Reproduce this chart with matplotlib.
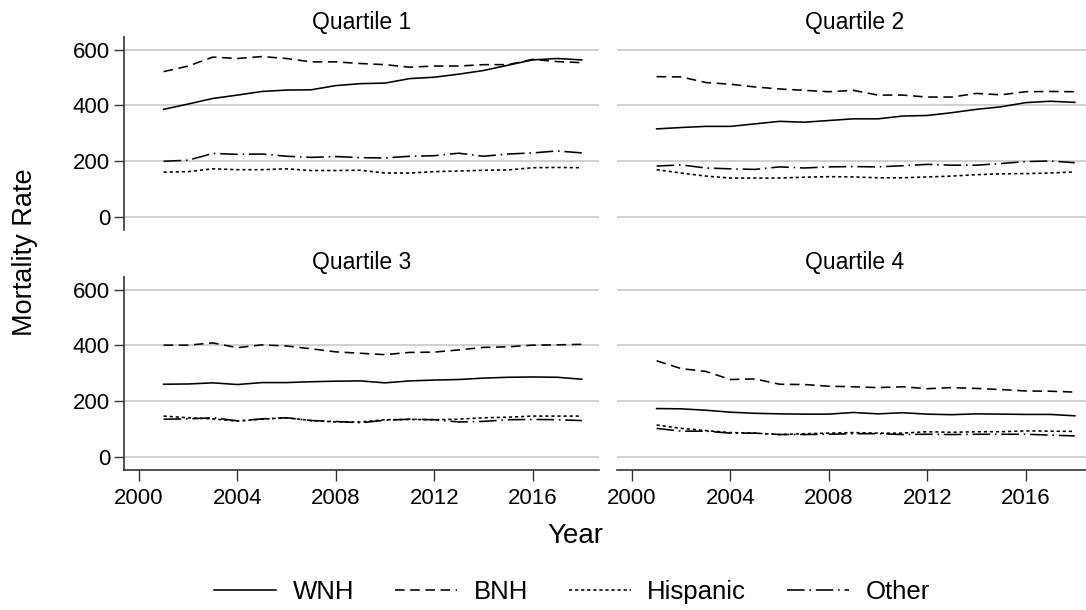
import numpy as np
import matplotlib
matplotlib.use("Agg")
import matplotlib.pyplot as plt

plt.rcParams["font.family"] = ["Liberation Sans", "DejaVu Sans"]

years = list(range(2001, 2019))
groups = ["WNH", "BNH", "Hispanic", "Other"]
panels = ["Quartile 1", "Quartile 2", "Quartile 3", "Quartile 4"]

# mortality rates per quartile, one list per group
q1_wnh = [386, 405, 425, 437, 450, 455, 456, 471, 478, 480, 496, 501, 512, 525, 544, 563, 568, 563]
q1_bnh = [521, 541, 573, 568, 575, 568, 556, 556, 550, 546, 537, 541, 541, 546, 546, 565, 557, 553]
q1_hisp = [161, 163, 173, 170, 170, 173, 167, 167, 168, 158, 158, 163, 165, 168, 169, 177, 178, 177]
q1_other = [200, 204, 228, 225, 226, 218, 214, 217, 213, 212, 218, 220, 229, 218, 226, 230, 237, 230]

q2_wnh = [316, 321, 325, 325, 334, 343, 340, 346, 352, 352, 362, 364, 374, 386, 395, 410, 415, 411]
q2_bnh = [503, 502, 482, 476, 466, 459, 454, 449, 454, 437, 437, 430, 430, 443, 438, 449, 450, 449]
q2_hisp = [170, 158, 147, 140, 140, 140, 143, 145, 144, 141, 141, 144, 147, 152, 155, 156, 158, 162]
q2_other = [183, 187, 176, 173, 171, 180, 176, 180, 181, 180, 184, 189, 186, 186, 192, 199, 201, 195]

q3_wnh = [261, 262, 266, 260, 267, 267, 270, 272, 273, 266, 273, 276, 278, 283, 286, 287, 286, 279]
q3_bnh = [401, 401, 409, 392, 402, 398, 388, 377, 372, 367, 375, 376, 384, 393, 395, 401, 402, 404]
q3_hisp = [147, 141, 137, 129, 136, 141, 131, 126, 126, 134, 135, 134, 136, 141, 143, 147, 147, 147]
q3_other = [136, 137, 141, 130, 137, 141, 131, 128, 123, 132, 136, 134, 126, 128, 134, 135, 134, 131]

q4_wnh = [174, 173, 168, 161, 157, 155, 154, 154, 160, 155, 159, 154, 152, 155, 154, 153, 153, 148]
q4_bnh = [345, 317, 307, 278, 280, 261, 260, 254, 252, 249, 252, 245, 249, 246, 242, 237, 236, 233]
q4_hisp = [115, 103, 95, 88, 86, 81, 84, 86, 88, 86, 86, 91, 89, 91, 91, 94, 93, 92]
q4_other = [103, 93, 93, 86, 86, 81, 81, 82, 84, 84, 81, 82, 81, 82, 82, 82, 79, 76]

series = [
    [q1_wnh, q1_bnh, q1_hisp, q1_other],
    [q2_wnh, q2_bnh, q2_hisp, q2_other],
    [q3_wnh, q3_bnh, q3_hisp, q3_other],
    [q4_wnh, q4_bnh, q4_hisp, q4_other],
]

styles = [
    dict(linestyle="-"),
    dict(linestyle=(0, (6, 3.5))),
    dict(linestyle=(0, (2, 1.8))),
    dict(linestyle=(0, (11, 3, 1, 3))),
]

W, H = 1086, 610
fig = plt.figure(figsize=(W / 100, H / 100), dpi=100)

# panel boxes in pixels: left, top, width, height
boxes = [(124, 37, 475, 193), (617, 37, 475, 193),
         (124, 277, 475, 193), (617, 277, 475, 193)]

handles = []
for i, (l, t, w, h) in enumerate(boxes):
    ax = fig.add_axes([l / W, 1 - (t + h) / H, w / W, h / H])
    ax.set_xlim(1999.39, 2018.7)
    ax.set_ylim(-46, 645)
    for y in [0, 200, 400, 600]:
        ax.axhline(y, color="#c4c4c4", lw=1.1, zorder=0)
    for vals, st in zip(series[i], styles):
        ln, = ax.plot(years, vals, color="black", lw=1.15, **st)
        if i == 0:
            handles.append(ln)
    ax.set_title(panels[i], fontsize=16.5, pad=6)
    for s in ["top", "right"]:
        ax.spines[s].set_visible(False)
    ax.set_yticks([0, 200, 400, 600])
    ax.set_xticks([2000, 2004, 2008, 2012, 2016])
    ax.tick_params(labelsize=16, width=1, color="#333333")
    ax.tick_params(axis="x", length=8, pad=5)
    ax.tick_params(axis="y", length=7, pad=3)
    if i % 2 == 1:
        ax.spines["left"].set_visible(False)
        ax.tick_params(axis="y", left=False, labelleft=False)
    if i < 2:
        ax.spines["bottom"].set_visible(False)
        ax.tick_params(axis="x", bottom=False, labelbottom=False)
    for s in ax.spines.values():
        s.set_color("#333333")
        s.set_linewidth(1.2)

fig.text(25 / W, 1 - 252 / H, "Mortality Rate", rotation=90, fontsize=19.5,
         ha="center", va="center")
fig.text(575 / W, 1 - 536 / H, "Year", fontsize=20, ha="center", va="center")

fig.legend(handles, groups, loc="center", bbox_to_anchor=(572 / W, 1 - 592 / H),
           ncol=4, frameon=False, fontsize=18.5, handlelength=2.4,
           handletextpad=0.65, columnspacing=1.6)

fig.savefig("out.png", dpi=100)
